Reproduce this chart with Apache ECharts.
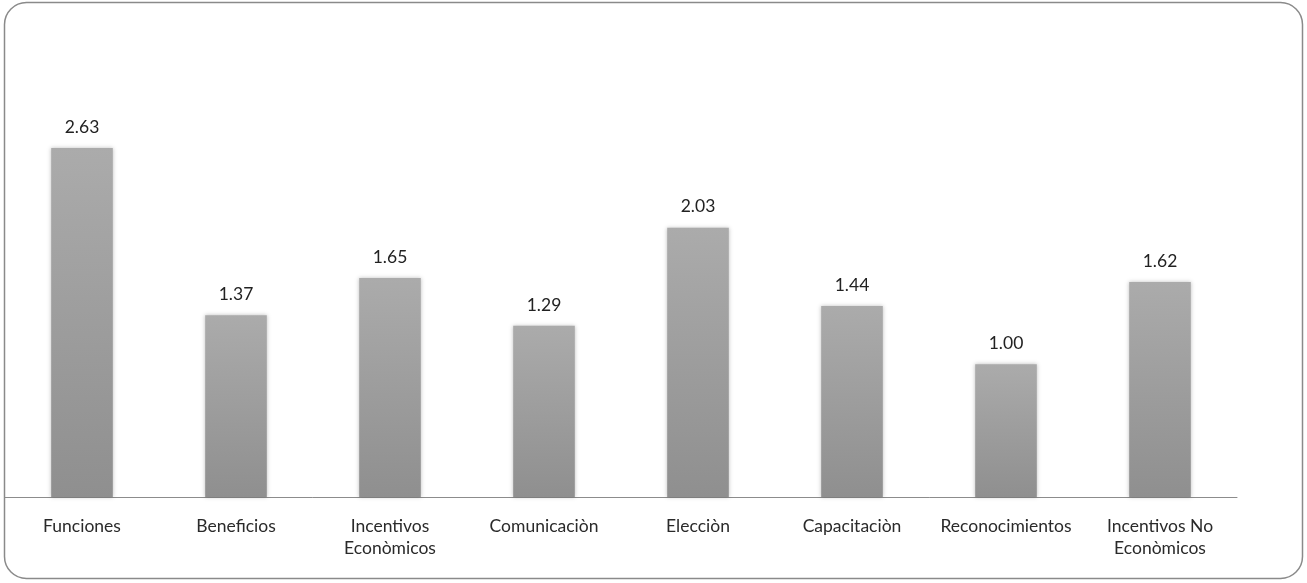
<!DOCTYPE html>
<html>
<head>
<meta charset="utf-8">
<script src="https://cdn.jsdelivr.net/npm/echarts@6/dist/echarts.min.js"></script>
<style>
  html, body { margin: 0; padding: 0; background: #ffffff; }
  #chart { width: 1307px; height: 583px; }
</style>
</head>
<body>
<div id="chart"></div>
<script>
// Categories and their average scores
const categories = [
  'Funciones', 'Beneficios', 'Incentivos\nEconòmicos', 'Comunicaciòn',
  'Elecciòn', 'Capacitaciòn', 'Reconocimientos', 'Incentivos No\nEconòmicos'
];
const values = [2.63, 1.37, 1.65, 1.29, 2.03, 1.44, 1.00, 1.62];

const chart = echarts.init(document.getElementById('chart'), null, { renderer: 'canvas' });

const font = 'Lato, "Open Sans", "Liberation Sans", sans-serif';

chart.setOption({
  animation: false,
  backgroundColor: '#ffffff',
  graphic: [{
    type: 'rect',
    shape: { x: 4.5, y: 2.5, width: 1298, height: 576, r: 22 },
    style: { fill: 'none', stroke: '#8a8a8a', lineWidth: 1.5 },
    z: 0
  }],
  grid: { left: 5, right: 70, top: 99, bottom: 86 },
  xAxis: {
    type: 'category',
    data: categories,
    axisLine: { show: true, lineStyle: { color: '#8c8c8c', width: 1 } },
    axisTick: { show: false },
    axisLabel: {
      color: '#2a2a2a', fontFamily: font, fontSize: 17.5, lineHeight: 22,
      margin: 18, interval: 0
    }
  },
  yAxis: {
    type: 'value',
    min: 0, max: 3, interval: 0.5,
    show: false,
    splitLine: { show: false }
  },
  series: [{
    type: 'bar',
    data: values,
    barWidth: '40%',
    itemStyle: {
      color: new echarts.graphic.LinearGradient(0, 0, 0, 1, [
        { offset: 0, color: '#ababab' },
        { offset: 1, color: '#8f8f8f' }
      ]),
      shadowColor: 'rgba(0,0,0,0.25)',
      shadowBlur: 4,
      shadowOffsetX: 0,
      shadowOffsetY: 0
    },
    label: {
      show: true,
      position: 'top',
      distance: 12,
      color: '#222222',
      fontFamily: font,
      fontSize: 17.5,
      formatter: p => p.value.toFixed(2)
    }
  }]
});
</script>
</body>
</html>
